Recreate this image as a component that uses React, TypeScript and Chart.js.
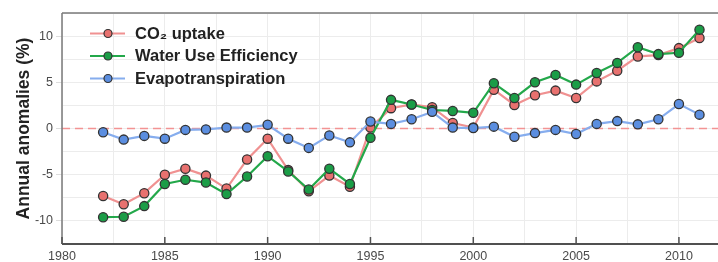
import React, { useEffect, useRef } from "react";
import { Chart, registerables } from "chart.js";

Chart.register(...registerables);

const years = [
  1982, 1983, 1984, 1985, 1986, 1987, 1988, 1989, 1990, 1991,
  1992, 1993, 1994, 1995, 1996, 1997, 1998, 1999, 2000, 2001,
  2002, 2003, 2004, 2005, 2006, 2007, 2008, 2009, 2010, 2011,
];
const co2Uptake = [
  -7.3, -8.2, -7.0, -5.0, -4.35, -5.1, -6.5, -3.35, -1.1, -4.5,
  -6.8, -5.1, -6.3, 0.1, 2.2, 2.6, 2.3, 0.6, 0.1, 4.2,
  2.55, 3.6, 4.1, 3.3, 5.1, 6.25, 7.8, 7.95, 8.7, 9.8,
];
const waterUseEfficiency = [
  -9.6, -9.55, -8.4, -6.0, -5.55, -5.85, -7.1, -5.2, -3.0, -4.65,
  -6.6, -4.35, -6.0, -1.0, 3.1, 2.6, 2.0, 1.9, 1.7, 4.9,
  3.3, 5.0, 5.8, 4.75, 6.0, 7.1, 8.8, 8.05, 8.2, 10.7,
];
const evapotranspiration = [
  -0.4, -1.2, -0.8, -1.1, -0.15, -0.1, 0.1, 0.1, 0.4, -1.1,
  -2.1, -0.75, -1.5, 0.75, 0.5, 1.0, 1.8, 0.1, 0.05, 0.2,
  -0.9, -0.5, -0.15, -0.6, 0.5, 0.8, 0.45, 1.0, 2.65, 1.5,
];
const seriesNames = ["CO\u2082 uptake", "Water Use Efficiency", "Evapotranspiration"];
const xGridValues = [1980, 1982.5, 1985, 1987.5, 1990, 1992.5, 1995, 1997.5, 2000, 2002.5, 2005, 2007.5, 2010];
const yGridValues = [-12.5, -10, -7.5, -5, -2.5, 0, 2.5, 5, 7.5, 10, 12.5];
const xMin = 1980;
const xMax = 2011.9;
const yMin = -12.5;
const yMax = 12.5;

const FONT = "'Liberation Sans', Arial, Helvetica, sans-serif";

const lineColors = ["#f09191", "#23a84a", "#86adee"];
const pointColors = ["#e8716f", "#1b9d47", "#5b8ee0"];

const decorPlugin = {
  id: "decor",
  beforeDatasetsDraw(chart: any) {
    const { ctx, chartArea, scales } = chart;
    const y0 = scales.y.getPixelForValue(0);
    ctx.save();
    ctx.strokeStyle = "#f39393";
    ctx.lineWidth = 1.6;
    ctx.setLineDash([8, 5]);
    ctx.beginPath();
    ctx.moveTo(chartArea.left, y0);
    ctx.lineTo(chartArea.right, y0);
    ctx.stroke();
    ctx.restore();
  },
  afterDatasetsDraw(chart: any) {
    const { ctx, chartArea, scales } = chart;
    const { left, right, top, bottom } = chartArea;
    ctx.save();
    ctx.strokeStyle = "#7a7a7a";
    ctx.lineWidth = 1.5;
    ctx.beginPath();
    ctx.moveTo(left, top);
    ctx.lineTo(right, top);
    ctx.moveTo(left, top);
    ctx.lineTo(left, bottom);
    ctx.stroke();
    ctx.strokeStyle = "#505050";
    ctx.lineWidth = 2;
    ctx.beginPath();
    ctx.moveTo(left, bottom);
    ctx.lineTo(right, bottom);
    ctx.stroke();
    ctx.lineWidth = 1.5;
    ctx.beginPath();
    xGridValues.filter((v) => v % 5 === 0).forEach((v) => {
      const x = scales.x.getPixelForValue(v);
      ctx.moveTo(x, bottom);
      ctx.lineTo(x, bottom - 7);
    });
    ctx.stroke();

    [0, 1, 2].forEach((i, row) => {
      const cy = top + 20.5 + row * 22.5;
      const x1 = left + 28;
      const x2 = left + 63;
      const cx = left + 46;
      ctx.setLineDash([]);
      ctx.strokeStyle = lineColors[i];
      ctx.lineWidth = 2;
      ctx.beginPath();
      ctx.moveTo(x1, cy);
      ctx.lineTo(x2, cy);
      ctx.stroke();
      ctx.beginPath();
      ctx.arc(cx, cy, 4, 0, Math.PI * 2);
      ctx.fillStyle = pointColors[i];
      ctx.fill();
      ctx.strokeStyle = "#333333";
      ctx.lineWidth = 1.2;
      ctx.stroke();
      ctx.fillStyle = "#222222";
      ctx.font = `bold 16.5px ${FONT}`;
      ctx.textAlign = "left";
      ctx.textBaseline = "middle";
      ctx.fillText(seriesNames[i], left + 73, cy + 0.5);
    });
    ctx.restore();
  },
};

export default function App() {
  const canvasRef = useRef<HTMLCanvasElement | null>(null);

  useEffect(() => {
    const canvas = canvasRef.current;
    if (!canvas) return;
    const allSeries = [co2Uptake, waterUseEfficiency, evapotranspiration];
    const drawOrder = [2, 1, 0];
    const chart = new Chart(canvas, {
      type: "line",
      data: {
        datasets: allSeries.map((vals, i) => ({
          label: seriesNames[i],
          data: years.map((yr, k) => ({ x: yr, y: vals[k] })),
          borderColor: lineColors[i],
          borderWidth: 2.2,
          pointRadius: 4.6,
          pointHoverRadius: 4.6,
          pointBackgroundColor: pointColors[i],
          pointBorderColor: "#333333",
          pointBorderWidth: 1.3,
          tension: 0,
          fill: false,
          clip: false,
          order: drawOrder[i],
        })),
      },
      options: {
        animation: false,
        responsive: false,
        events: [],
        layout: { autoPadding: false, padding: { top: 13, left: 0, right: 0, bottom: 0 } },
        plugins: {
          legend: { display: false },
          tooltip: { enabled: false },
          title: { display: false },
        },
        scales: {
          x: {
            type: "linear",
            min: xMin,
            max: xMax,
            afterBuildTicks: (s: any) => {
              s.ticks = xGridValues.map((v) => ({ value: v }));
            },
            afterFit: (s: any) => {
              s.height = 18;
              s.paddingLeft = 0;
              s.paddingRight = 0;
            },
            grid: { color: "#ececec", lineWidth: 1, drawTicks: false },
            border: { display: false },
            ticks: {
              autoSkip: false,
              maxRotation: 0,
              padding: 5,
              color: "#4a4a4a",
              font: { family: FONT, size: 12.5 },
              callback: (v: any) => (Number(v) % 5 === 0 ? String(v) : ""),
            },
          },
          y: {
            type: "linear",
            min: yMin,
            max: yMax,
            afterBuildTicks: (s: any) => {
              s.ticks = yGridValues.map((v) => ({ value: v }));
            },
            afterFit: (s: any) => {
              s.width = 62;
              s.paddingTop = 0;
              s.paddingBottom = 0;
            },
            grid: {
              color: "#ececec",
              lineWidth: 1,
              drawTicks: true,
              tickLength: 6,
              tickColor: (c: any) => (c.tick && c.tick.value % 5 === 0 ? "#dddddd" : "rgba(0,0,0,0)"),
            },
            border: { display: false },
            ticks: {
              autoSkip: false,
              padding: 3,
              color: "#4a4a4a",
              font: { family: FONT, size: 12.5 },
              callback: (v: any) => (Number(v) % 5 === 0 ? String(v) : ""),
            },
            title: {
              display: true,
              text: "Annual anomalies (%)",
              color: "#222222",
              font: { family: FONT, size: 17.5, weight: "bold" },
              padding: { top: 13.5, bottom: 0 },
            },
          },
        },
      },
      plugins: [decorPlugin],
    } as any);
    return () => chart.destroy();
  }, []);

  return (
    <div style={{ position: "absolute", left: 0, top: 0, width: 718, height: 262, background: "#ffffff" }}>
      <canvas ref={canvasRef} width={718} height={262} style={{ display: "block", width: 718, height: 262 }} />
    </div>
  );
}
